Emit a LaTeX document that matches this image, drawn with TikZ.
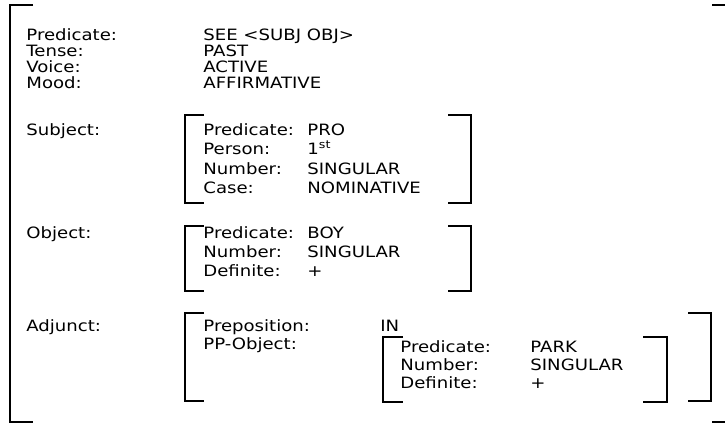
\documentclass[tikz,border=0pt]{standalone}
\usepackage{fontspec}
\newfontfamily\avmfont[FakeStretch=1.16]{DejaVu Sans}
\begin{document}
\begin{tikzpicture}
	[x=0.5pt,y=-0.5pt,
	 feat/.style={anchor=base west,inner sep=0pt,font=\avmfont\fontsize{7.8}{9}\selectfont},
	 brk/.style={line width=1pt}]
    \useasboundingbox (0,0) rectangle (725,424);
    % top level
    \node[feat] (pred) at (26,40) {Predicate:};
    \node[feat] (tense) at (26,56) {Tense:};
    \node[feat] (voice) at (26,72) {Voice:};
    \node[feat] (mood) at (26,88) {Mood:};
    \node[feat] (subj) at (26,135) {Subject:};
    \node[feat] (obj) at (26,238) {Object:};
    \node[feat] (adj) at (26,331) {Adjunct:};
    \node[feat] (predv) at (203,40) {SEE <SUBJ OBJ>};
    \node[feat] (tensev) at (203,56) {PAST};
    \node[feat] (voicev) at (203,72) {ACTIVE};
    \node[feat] (moodv) at (203,88) {AFFIRMATIVE};
    % subject
    \node[feat] (spred) at (203,135) {Predicate:};
    \node[feat] (sper) at (203,154) {Person:};
    \node[feat] (snum) at (203,174) {Number:};
    \node[feat] (scase) at (203,193) {Case:};
    \node[feat] (spredv) at (307,135) {PRO};
    \node[feat] (sperv) at (307,154) {1\textsuperscript{st}};
    \node[feat] (snumv) at (307,174) {SINGULAR};
    \node[feat] (scasev) at (307,193) {NOMINATIVE};
    % object
    \node[feat] (opred) at (203,238) {Predicate:};
    \node[feat] (onum) at (203,257) {Number:};
    \node[feat] (odef) at (203,276) {Definite:};
    \node[feat] (opredv) at (307,238) {BOY};
    \node[feat] (onumv) at (307,257) {SINGULAR};
    \node[feat] (odefv) at (307,276) {+};
    % adjunct
    \node[feat] (aprep) at (203,331) {Preposition:};
    \node[feat] (apobj) at (203,349) {PP-Object:};
    \node[feat] (aprepv) at (380,331) {IN};
    \node[feat] (ppred) at (400,352) {Predicate:};
    \node[feat] (pnum) at (400,370) {Number:};
    \node[feat] (pdef) at (400,388) {Definite:};
    \node[feat] (ppredv) at (530,352) {PARK};
    \node[feat] (pnumv) at (530,370) {SINGULAR};
    \node[feat] (pdefv) at (530,388) {+};
    % brackets
    \draw [brk] (33,5) -- (10,5) -- (10,422) -- (33,422);
    \draw [brk] (712,5) -- (728,5) -- (728,422) -- (712,422);
    \draw [brk] (204,115) -- (185,115) -- (185,203) -- (204,203);
    \draw [brk] (448,115) -- (471,115) -- (471,203) -- (448,203);
    \draw [brk] (204,226) -- (185,226) -- (185,291) -- (204,291);
    \draw [brk] (448,226) -- (471,226) -- (471,291) -- (448,291);
    \draw [brk] (204,313) -- (185,313) -- (185,401) -- (204,401);
    \draw [brk] (688,313) -- (711,313) -- (711,401) -- (688,401);
    \draw [brk] (403,337) -- (383,337) -- (383,402) -- (403,402);
    \draw [brk] (643,337) -- (667,337) -- (667,402) -- (643,402);
\end{tikzpicture}
\end{document}
